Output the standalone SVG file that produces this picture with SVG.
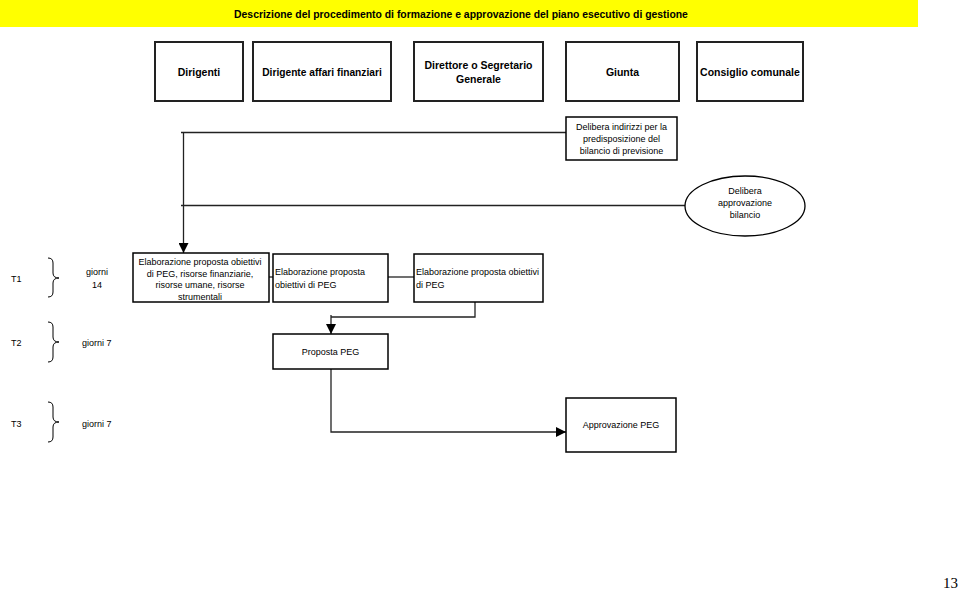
<svg xmlns="http://www.w3.org/2000/svg" width="960" height="590" viewBox="0 0 960 590">
<style>
text{font-family:"Liberation Sans",Arial,sans-serif;fill:#000}
.t{font-size:9px}
.h{font-size:10.5px;font-weight:bold}
.hb{fill:#fff;stroke:#222;stroke-width:2}
.b{fill:#fff;stroke:#000;stroke-width:1.5}
.c{fill:none;stroke:#222;stroke-width:1.3}
.br{fill:none;stroke:#000;stroke-width:1}
</style>
<defs>
<marker id="ah" viewBox="0 0 10 10" refX="10" refY="5" markerWidth="10" markerHeight="10" markerUnits="userSpaceOnUse" orient="auto">
<path d="M0,0 L10,5 L0,10 z" fill="#000"/>
</marker>
</defs>
<rect width="960" height="590" fill="#fff"/>
<g id="title">
<rect x="0" y="0" width="918" height="27" fill="#ffff00"/>
<text x="461" y="18" text-anchor="middle" style="font-size:10.4px;font-weight:bold">Descrizione del procedimento di formazione e approvazione del piano esecutivo di gestione</text>
</g>
<g id="connectors">
<path class="c" d="M181,132.5 H566"/>
<path class="c" d="M181,205.5 H686"/>
<path class="c" d="M183.5,132.5 V253" marker-end="url(#ah)"/>
<path class="c" d="M269,277 H273"/>
<path class="c" d="M388,277 H414"/>
<path class="c" d="M475,302 V317 H331"/>
<path class="c" d="M331,315 V334" marker-end="url(#ah)"/>
<path class="c" d="M331,369 V432 H566" marker-end="url(#ah)"/>
</g>
<g id="n-dirigenti"><rect class="hb" x="155" y="42" width="88" height="59"/><text class="h" x="199" y="76" text-anchor="middle">Dirigenti</text></g>
<g id="n-affari"><rect class="hb" x="253" y="42" width="138" height="59"/><text class="h" x="322" y="76" text-anchor="middle" style="font-size:10.2px">Dirigente affari finanziari</text></g>
<g id="n-direttore"><rect class="hb" x="414" y="42" width="129" height="59"/><text class="h" x="478.5" y="69" text-anchor="middle">Direttore o Segretario</text><text class="h" x="478.5" y="83" text-anchor="middle">Generale</text></g>
<g id="n-giunta"><rect class="hb" x="566" y="42" width="113" height="59"/><text class="h" x="622.5" y="76" text-anchor="middle">Giunta</text></g>
<g id="n-consiglio"><rect class="hb" x="697" y="42" width="106" height="59"/><text class="h" x="750" y="76" text-anchor="middle">Consiglio comunale</text></g>
<g id="n-delibera-indirizzi"><rect class="b" x="566" y="117" width="111" height="43"/>
<text class="t" x="621.5" y="130" text-anchor="middle">Delibera indirizzi per la</text>
<text class="t" x="621.5" y="142" text-anchor="middle">predisposizione del</text>
<text class="t" x="621.5" y="154" text-anchor="middle">bilancio di previsione</text></g>
<g id="n-delibera-bilancio"><ellipse cx="745" cy="206" rx="60" ry="30" fill="#fff" stroke="#000" stroke-width="1.3"/>
<text class="t" x="745" y="194" text-anchor="middle">Delibera</text>
<text class="t" x="745" y="206" text-anchor="middle">approvazione</text>
<text class="t" x="745" y="218" text-anchor="middle">bilancio</text></g>
<g id="n-elab1"><rect class="b" x="133" y="253" width="136" height="49"/>
<text class="t" x="200" y="265" text-anchor="middle">Elaborazione proposta obiettivi</text>
<text class="t" x="200" y="276.5" text-anchor="middle">di PEG, risorse finanziarie,</text>
<text class="t" x="200" y="288" text-anchor="middle">risorse umane, risorse</text>
<text class="t" x="200" y="299.5" text-anchor="middle">strumentali</text></g>
<g id="n-elab2"><rect class="b" x="273" y="254" width="115" height="48"/>
<text class="t" x="275" y="275">Elaborazione proposta</text>
<text class="t" x="275" y="288">obiettivi di PEG</text></g>
<g id="n-elab3"><rect class="b" x="414" y="254" width="129" height="48"/>
<text class="t" x="416" y="275">Elaborazione proposta obiettivi</text>
<text class="t" x="416" y="288">di PEG</text></g>
<g id="n-proposta"><rect class="b" x="273" y="334" width="115" height="35"/>
<text class="t" x="330.5" y="354.5" text-anchor="middle">Proposta PEG</text></g>
<g id="n-approvazione"><rect class="b" x="566" y="398" width="110" height="54"/>
<text class="t" x="621" y="427.5" text-anchor="middle">Approvazione PEG</text></g>
<g id="t1">
<text class="t" x="11" y="282">T1</text>
<path class="br" d="M48,258 Q53,258 53,263 V273 Q53,278 59,278 Q53,278 53,283 V292 Q53,297 48,297"/>
<text class="t" x="97" y="275" text-anchor="middle">giorni</text>
<text class="t" x="97" y="288" text-anchor="middle">14</text>
</g>
<g id="t2">
<text class="t" x="11" y="346">T2</text>
<path class="br" d="M48,322 Q53,322 53,327 V337 Q53,342 59,342 Q53,342 53,347 V357 Q53,362 48,362"/>
<text class="t" x="82" y="346">giorni 7</text>
</g>
<g id="t3">
<text class="t" x="11" y="427">T3</text>
<path class="br" d="M48,402 Q53,402 53,407 V417 Q53,422 59,422 Q53,422 53,427 V437 Q53,442 48,442"/>
<text class="t" x="82" y="427">giorni 7</text>
</g>
<text x="958" y="588" text-anchor="end" style="font-family:'Liberation Serif','Times New Roman',serif;font-size:15px">13</text>
</svg>
